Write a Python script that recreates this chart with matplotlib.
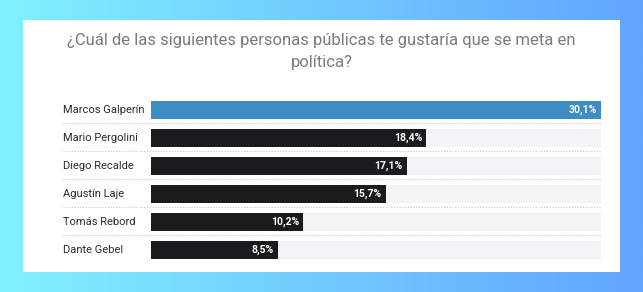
# Encuesta: personas públicas que deberían meterse en política
import numpy as np
import matplotlib.pyplot as plt
from matplotlib.patches import Rectangle
from matplotlib.transforms import blended_transform_factory

names = ["Marcos Galperín", "Mario Pergolini", "Diego Recalde",
         "Agustín Laje", "Tomás Rebord", "Dante Gebel"]
values = [30.1, 18.4, 17.1, 15.7, 10.2, 8.5]
labels = ["30,1%", "18,4%", "17,1%", "15,7%", "10,2%", "8,5%"]
title1 = "¿Cuál de las siguientes personas públicas te gustaría que se meta en"
title2 = "política?"

W, H = 643, 292
fig = plt.figure(figsize=(W / 100, H / 100), dpi=100)

# gradient background
bg = fig.add_axes([0, 0, 1, 1])
left = np.array([128, 242, 255]) / 255
right = np.array([98, 164, 255]) / 255
t = np.linspace(0, 1, 256)[None, :, None]
grad = left * (1 - t) + right * t
bg.imshow(grad, aspect="auto", extent=[0, 1, 0, 1])
bg.set_xlim(0, 1)
bg.set_ylim(0, 1)
bg.axis("off")

# white card
bg.add_patch(Rectangle((23 / W, 1 - 272 / H), (620 - 23) / W, (272 - 20) / H,
                       facecolor="white", edgecolor="none"))

# title, sized so the first line spans ~513 px
tkw = dict(ha="center", va="center", color="#7b7b80", family="Roboto")
t1 = fig.text(0.5, 1 - 41 / H, title1, fontsize=14, **tkw)
r = fig.canvas.get_renderer()
w = t1.get_window_extent(r).width
fs = 14 * 513 / w
t1.set_fontsize(fs)
fig.text(0.5, 1 - 63 / H, title2, fontsize=fs, **tkw)

ax = fig.add_axes([151 / W, (H - 264) / H, 450 / W, 168 / H])
ax.set_xlim(0, max(values))
ax.set_ylim(len(names) - 0.5, -0.5)
ax.axis("off")

y = np.arange(len(names))
colors = ["#3d8cc4"] + ["#1b1a1d"] * (len(names) - 1)
ax.barh(y, [max(values)] * len(names), height=0.64, color="#f3f4f6")
ax.barh(y, values, height=0.64, color=colors)

tr = blended_transform_factory(ax.transAxes, ax.transData)
for i, (n, v, lab) in enumerate(zip(names, values, labels)):
    ax.text(-0.1956, i, n, transform=tr, ha="left", va="center",
            fontsize=8, color="#2a2a2a", family="Roboto", clip_on=False)
    ax.annotate(lab, (v, i), xytext=(-4, 0), textcoords="offset pixels",
                ha="right", va="center", color="white", fontsize=7.5,
                fontweight="bold", family="Roboto")
    if i < len(names) - 1:
        ax.plot([-0.1956, 1], [i + 0.46, i + 0.46], transform=tr, color="#c8c8c8",
                linestyle=(0, (1, 1.5)), linewidth=0.8, clip_on=False)

fig.savefig("out.png", dpi=100)
